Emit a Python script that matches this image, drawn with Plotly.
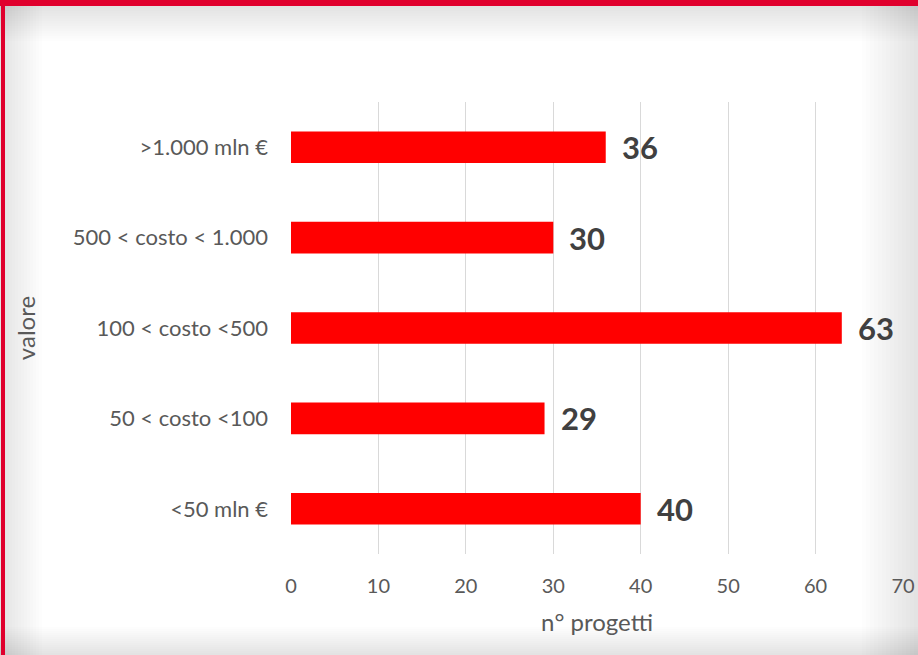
import plotly.graph_objects as go

# dati
categorie = ["<50 mln €", "50 < costo <100", "100 < costo <500",
             "500 < costo < 1.000", ">1.000 mln €"]
progetti = [40, 29, 63, 30, 36]
tick_x = [0, 10, 20, 30, 40, 50, 60, 70]

ROSSO = "#ff0000"
GRIGIO = "#595959"
FONT = "Lato"

fig = go.Figure()

fig.add_trace(go.Bar(
    x=progetti, y=categorie, orientation="h",
    marker=dict(color=ROSSO, line=dict(width=0)),
    hoverinfo="skip",
))

# etichette dei valori
for v, c in zip(progetti, categorie):
    fig.add_annotation(
        x=v, y=c, text=f"<b>{v}</b>", showarrow=False,
        xanchor="left", xshift=14, yshift=0,
        font=dict(family=FONT, size=31, color="#404040"),
    )

# cornice: bordo rosso e ombra grigia ai lati
W, H = 612, 452
X0, X1 = -291 / W, (W + 15) / W
Y0, Y1 = -101 / H, (H + 102) / H
forme = []
for i in range(14):
    op = 0.007
    forme += [
        dict(type="rect", xref="paper", yref="paper", x0=X0, x1=(-291 + (i + 1) * 3) / W,
             y0=Y0, y1=Y1, fillcolor="black", opacity=op, line_width=0, layer="below"),
        dict(type="rect", xref="paper", yref="paper", x0=(W + 15 - (i + 1) * 4) / W, x1=X1,
             y0=Y0, y1=Y1, fillcolor="black", opacity=op, line_width=0, layer="below"),
        dict(type="rect", xref="paper", yref="paper", x0=X0, x1=X1,
             y0=Y0, y1=(-101 + (i + 1) * 2) / H, fillcolor="black", opacity=op, line_width=0,
             layer="below"),
        dict(type="rect", xref="paper", yref="paper", x0=X0, x1=X1,
             y0=(H + 96 - (i + 1) * 2.5) / H, y1=(H + 96) / H, fillcolor="black", opacity=op,
             line_width=0, layer="below"),
    ]
forme += [
    dict(type="rect", xref="paper", yref="paper", x0=X0, x1=X1,
         y0=(H + 96) / H, y1=Y1, fillcolor="#e0002d", line_width=0),
    dict(type="rect", xref="paper", yref="paper", x0=-290 / W, x1=-286 / W,
         y0=Y0, y1=Y1, fillcolor="#e0002d", line_width=0),
]

fig.update_layout(
    width=918, height=655,
    margin=dict(l=291, r=15, t=102, b=101),
    paper_bgcolor="white", plot_bgcolor="rgba(0,0,0,0)",
    bargap=0.65, showlegend=False,
    font=dict(family=FONT, color=GRIGIO),
    shapes=forme,
    xaxis=dict(
        range=[0, 70], tickvals=tick_x, showgrid=True, gridcolor="#d9d9d9", gridwidth=1,
        zeroline=False, showline=False, ticks="", tickfont=dict(size=20, color=GRIGIO),
        ticklabelstandoff=18, automargin=False,
        title=dict(text="n° progetti", font=dict(size=24, color=GRIGIO), standoff=18),
    ),
    yaxis=dict(
        categoryorder="array", categoryarray=categorie, showgrid=False, zeroline=False,
        showline=False, ticks="", tickfont=dict(size=22, color=GRIGIO), ticklabelstandoff=22,
        automargin=False,
        title=dict(text="valore", font=dict(size=24, color=GRIGIO), standoff=30),
    ),
)

fig.write_html("out.html", config={"displayModeBar": False},
               post_script="document.body.style.margin='0';document.body.style.overflow='hidden';")
